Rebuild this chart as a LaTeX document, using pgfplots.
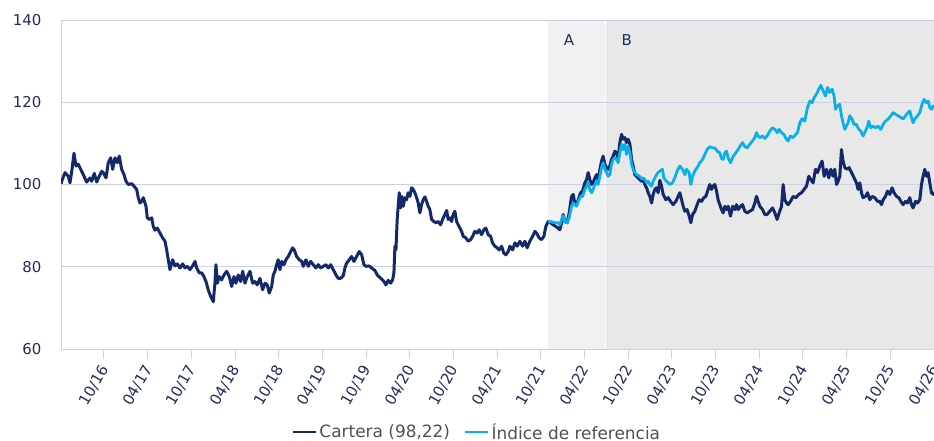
\documentclass[border=0pt]{standalone}
\usepackage{fontspec}
\setmainfont{DejaVu Sans}
\usepackage{pgfplots}
\usepackage{pgfplotstable}
\pgfplotsset{compat=1.18}
\definecolor{cartera}{HTML}{13296B}
\definecolor{indice}{HTML}{0AB0EA}
\definecolor{gridcol}{HTML}{C8D2E6}
\definecolor{tickcol}{HTML}{1F2C5C}
\definecolor{legcol}{HTML}{505050}
\definecolor{zoneA}{HTML}{F1F1F1}
\definecolor{zoneB}{HTML}{E8E8E8}

% x = months since January 2016 (0 = 01/2016)
\pgfplotstableread{
m v
3.10 100.2
3.19 100.8
3.65 102.9
4.10 102.0
4.33 100.4
4.57 103.2
4.88 107.6
5.16 104.5
5.47 104.9
5.94 103.2
6.16 102.4
6.62 100.6
7.08 101.6
7.31 100.8
7.67 102.7
8.00 100.6
8.35 102.0
8.68 103.2
8.90 102.9
9.28 101.6
9.59 105.3
9.92 106.5
10.20 103.7
10.51 106.5
10.83 105.3
11.10 106.9
11.43 103.7
11.75 102.4
12.02 100.8
12.34 100.0
12.80 100.2
13.12 99.6
13.49 98.8
13.71 96.8
13.94 95.5
14.18 95.9
14.40 96.8
14.77 94.7
14.95 91.9
15.22 91.5
15.55 91.9
15.77 89.8
16.00 88.9
16.32 89.4
16.69 88.2
17.06 87.0
17.38 86.2
17.61 84.1
17.83 81.7
18.06 79.3
18.43 81.7
18.75 80.2
19.07 80.7
19.44 79.7
19.81 80.7
20.12 79.7
20.44 80.1
20.81 79.3
21.18 80.2
21.50 81.3
21.73 79.7
22.09 78.5
22.42 78.5
22.73 77.6
23.01 76.4
23.32 74.4
23.65 72.8
24.01 71.5
24.24 76.0
24.38 80.5
24.56 76.0
24.83 77.6
25.16 76.8
25.48 78.0
25.85 78.9
26.21 77.6
26.54 75.2
26.85 77.6
27.13 76.0
27.44 78.0
27.77 76.4
28.05 78.9
28.36 76.0
28.68 77.6
29.05 78.9
29.42 76.0
29.73 76.4
30.05 75.6
30.42 77.2
30.79 74.4
31.11 76.0
31.42 75.6
31.70 73.6
32.03 75.2
32.25 78.0
32.48 78.9
32.71 80.5
32.93 81.7
33.17 79.3
33.40 81.3
33.72 80.5
33.99 81.7
34.31 82.5
34.64 83.7
34.91 84.6
35.13 84.1
35.46 82.5
35.82 81.7
36.15 81.3
36.37 80.1
36.74 81.7
37.05 80.1
37.38 81.3
37.74 80.5
38.11 79.7
38.43 80.5
38.76 79.7
39.11 80.1
39.48 80.5
39.80 79.7
40.13 80.5
40.49 79.3
40.86 78.0
41.17 77.2
41.50 77.2
41.86 77.8
42.09 79.7
42.33 80.9
42.68 81.7
43.01 82.5
43.33 81.3
43.70 82.5
44.06 83.7
44.39 82.9
44.70 80.5
44.98 80.1
45.43 80.2
45.76 79.7
46.21 79.1
46.53 78.0
46.80 77.5
47.13 77.0
47.45 76.4
47.72 75.6
48.04 76.7
48.37 76.0
48.64 76.8
48.82 78.5
48.96 85.0
49.10 84.1
49.27 91.5
49.55 98.0
49.74 94.3
49.92 97.1
50.10 94.7
50.33 96.8
50.56 96.3
50.78 98.0
51.02 97.1
51.25 99.2
51.47 98.8
51.70 98.0
51.94 96.8
52.16 95.5
52.39 93.1
52.62 95.1
52.84 96.3
53.08 97.0
53.31 95.9
53.53 94.7
53.76 93.9
54.00 91.5
54.31 91.0
54.59 90.7
54.90 91.0
55.23 90.2
55.51 91.5
55.82 92.7
56.06 93.7
56.28 91.5
56.51 91.9
56.74 91.0
56.96 92.7
57.20 93.5
57.43 91.0
57.65 90.2
57.88 89.4
58.12 88.6
58.34 87.4
58.71 87.0
59.02 86.2
59.35 86.6
59.63 87.4
59.94 88.6
60.26 88.2
60.53 89.0
60.86 87.8
61.18 89.0
61.45 89.4
61.77 87.8
62.10 87.4
62.37 85.8
62.69 85.0
63.00 84.6
63.28 84.1
63.61 85.0
63.92 83.3
64.20 82.9
64.52 83.7
64.75 85.0
65.12 84.1
65.44 85.8
65.75 85.0
66.12 86.2
66.49 85.0
66.81 86.2
67.12 84.6
67.49 86.2
67.87 87.4
68.18 88.6
68.41 88.2
68.77 87.0
69.10 86.6
69.42 87.4
69.69 89.8
70.01 91.0
70.34 90.7
70.69 90.2
71.06 89.8
71.38 89.4
71.61 89.0
71.85 90.7
72.07 92.7
72.30 91.0
72.62 90.7
72.89 93.1
73.22 97.1
73.44 97.6
73.67 95.5
73.91 95.1
74.13 96.3
74.46 98.0
74.73 98.4
75.05 100.4
75.28 101.2
75.50 102.9
75.73 101.2
75.97 100.0
76.19 100.4
76.42 101.6
76.65 102.4
76.87 101.2
77.11 103.7
77.34 105.7
77.56 106.9
77.79 104.9
78.03 104.1
78.25 103.7
78.48 104.5
78.71 106.1
78.93 106.9
79.17 108.1
79.40 107.7
79.62 106.1
79.85 110.2
80.09 112.2
80.31 111.0
80.54 111.4
80.77 110.2
80.99 111.0
81.23 109.8
81.46 106.1
81.68 104.5
81.91 102.4
82.15 102.0
82.37 101.6
82.60 101.2
82.83 100.8
83.05 101.2
83.29 100.0
83.52 99.2
83.74 98.0
83.97 97.1
84.21 95.5
84.43 97.6
84.66 98.8
84.89 99.2
85.11 98.0
85.35 101.0
85.58 99.6
85.80 97.6
86.17 96.3
86.49 96.8
86.81 95.9
87.17 95.1
87.54 95.9
87.86 97.1
88.09 98.0
88.33 96.3
88.55 94.7
88.78 93.5
89.09 93.9
89.37 92.3
89.60 90.7
89.84 92.7
90.15 93.5
90.47 95.1
90.74 96.3
91.07 95.9
91.39 96.8
91.66 97.1
91.98 98.8
92.21 100.0
92.44 98.8
92.66 99.6
92.90 100.0
93.13 98.4
93.35 96.3
93.58 95.1
93.82 93.9
94.04 93.1
94.27 94.7
94.50 93.9
94.72 94.7
95.05 92.3
95.33 94.7
95.64 93.9
95.88 95.1
96.10 93.9
96.43 94.7
96.70 95.1
97.02 93.5
97.33 93.1
97.70 93.5
98.07 93.9
98.39 95.5
98.62 97.1
98.84 95.9
99.08 94.7
99.45 93.9
99.76 92.7
100.08 92.7
100.45 93.5
100.82 94.3
101.14 93.1
101.45 91.5
101.73 93.1
102.06 94.7
102.28 100.0
102.51 96.3
102.74 95.5
102.96 95.1
103.29 95.9
103.65 97.1
104.02 96.8
104.43 97.6
104.80 98.0
105.16 98.8
105.49 99.6
105.80 102.0
106.08 101.2
106.40 100.4
106.72 103.7
107.00 102.9
107.32 104.5
107.63 105.7
107.91 102.0
108.24 103.7
108.55 101.6
108.83 103.7
109.14 102.0
109.37 103.7
109.61 100.0
109.83 100.8
110.06 102.0
110.29 108.5
110.51 105.7
110.75 104.1
111.06 103.7
111.34 104.1
111.67 102.9
112.03 101.6
112.35 100.4
112.57 98.8
112.81 100.4
113.04 98.0
113.26 96.8
113.59 97.1
113.87 98.0
114.18 96.3
114.50 97.1
114.87 96.8
115.24 95.9
115.55 95.9
115.79 95.1
116.01 96.3
116.34 97.1
116.61 98.4
116.93 97.6
117.24 99.2
117.52 98.0
117.85 97.1
118.16 96.8
118.44 95.9
118.75 95.1
119.08 95.9
119.36 95.5
119.67 96.8
119.91 95.1
120.13 94.3
120.46 95.9
120.73 95.5
121.05 96.3
121.28 100.0
121.50 102.0
121.73 103.7
121.97 102.0
122.19 102.9
122.42 100.4
122.65 98.0
122.87 97.6
122.97 98.22
}\carteradata

\pgfplotstableread{
m v
70.01 91.0
70.34 91.0
70.69 90.8
71.06 90.7
71.38 90.7
71.61 90.2
71.85 91.5
72.07 92.4
72.30 91.0
72.62 90.7
72.89 91.9
73.22 94.7
73.44 95.5
73.67 95.1
73.91 94.7
74.13 95.9
74.46 97.1
74.73 97.1
75.05 98.8
75.28 99.6
75.50 100.4
75.73 98.8
75.97 98.0
76.19 98.8
76.42 100.0
76.65 100.8
76.87 100.0
77.11 102.0
77.34 104.1
77.56 105.3
77.79 103.7
78.03 102.9
78.25 102.0
78.48 102.4
78.71 104.9
78.93 106.1
79.17 106.5
79.40 106.1
79.62 105.3
79.85 107.7
80.09 109.8
80.31 108.5
80.54 109.8
80.77 107.3
80.99 109.3
81.23 107.7
81.46 104.9
81.68 103.7
81.91 102.9
82.15 102.4
82.37 102.2
82.60 101.9
82.83 101.4
83.05 101.6
83.29 101.2
83.52 100.4
83.74 100.8
83.97 100.0
84.21 99.6
84.43 100.8
84.66 101.6
84.89 102.4
85.11 102.9
85.35 103.3
85.71 103.7
85.89 101.6
86.26 100.8
86.71 100.0
87.08 100.4
87.40 101.6
87.72 103.3
88.09 104.5
88.46 103.7
88.78 102.4
89.01 103.7
89.37 102.9
89.60 100.0
89.84 102.0
90.15 103.3
90.47 104.1
90.84 105.3
91.21 106.1
91.53 107.3
91.84 108.5
92.21 109.2
92.58 108.9
92.90 108.9
93.21 108.1
93.58 107.7
93.82 106.3
94.04 106.1
94.27 107.7
94.50 108.1
94.72 106.5
95.05 105.3
95.41 106.8
95.78 107.7
96.10 108.5
96.43 109.5
96.70 110.2
97.02 109.2
97.33 108.9
97.70 109.8
98.07 110.6
98.39 111.4
98.62 112.6
98.84 111.8
99.08 111.4
99.45 111.8
99.76 111.2
100.08 111.8
100.45 113.0
100.82 113.8
101.14 113.4
101.45 112.6
101.73 113.4
102.06 112.6
102.37 112.2
102.74 111.0
102.96 110.6
103.29 111.8
103.65 111.4
104.02 112.2
104.25 112.6
104.57 115.0
104.88 116.0
105.25 115.4
105.62 118.7
105.94 120.3
106.26 119.9
106.53 121.1
106.86 122.0
107.18 123.2
107.45 124.1
107.77 122.8
108.10 121.5
108.38 123.6
108.69 122.4
109.01 123.2
109.28 121.5
109.47 118.3
109.75 119.1
110.06 119.5
110.29 116.7
110.51 115.0
110.75 113.4
110.98 114.2
111.20 115.0
111.43 116.7
111.75 115.9
112.02 114.6
112.35 114.6
112.67 113.4
112.94 113.0
113.26 111.8
113.59 113.0
113.87 114.2
114.04 115.4
114.32 113.8
114.64 114.2
114.97 113.8
115.32 114.2
115.69 113.4
116.01 114.6
116.34 115.4
116.70 115.9
117.07 116.7
117.38 117.5
117.71 117.1
118.07 116.7
118.44 116.3
118.75 115.9
119.08 116.7
119.44 117.5
119.67 117.9
119.91 116.3
120.13 115.0
120.36 115.9
120.73 116.7
121.05 117.5
121.36 119.5
121.64 120.7
121.97 119.9
122.19 120.3
122.42 118.7
122.65 118.3
122.87 119.1
122.97 118.6
}\indicedata

\begin{document}
\begin{tikzpicture}
\begin{axis}[
  set layers,
  at={(0,0)}, anchor=south west,
  scale only axis,
  width=873bp, height=329bp,
  xmin=3.096, xmax=123,
  ymin=60, ymax=140,
  xtick={9,15,...,123},
  xticklabels={10/16,04/17,10/17,04/18,10/18,04/19,10/19,04/20,10/20,04/21,10/21,04/22,10/22,04/23,10/23,04/24,10/24,04/25,10/25,04/26},
  ytick={60,80,100,120,140},
  /pgf/number format/assume math mode=true,
  axis lines*=left,
  axis line style={-, draw=gridcol, line width=1bp},
  ymajorgrids,
  grid style={gridcol, line width=1bp},
  tick align=outside,
  major tick length=10bp,
  xtick style={gridcol, line width=1bp},
  ytick style={draw=none},
  tick label style={font=\fontsize{15}{18}\selectfont, text=tickcol},
  xticklabel style={yshift=-6bp, xshift=2bp, rotate=60, anchor=east, inner sep=2bp},
  yticklabel style={anchor=east, xshift=-6bp},
  legend columns=2,
  legend style={at={(0.4765,-0.252)}, anchor=center, draw=none, fill=none,
    font=\fontsize{17}{20}\selectfont, text=legcol,
    /tikz/every even column/.append style={column sep=12bp}},
  legend image code/.code={\draw[#1, line width=2.6bp] (0bp,0bp) -- (23bp,0bp);},
  clip=true,
]
\begin{pgfonlayer}{axis background}
  \fill[zoneA] (axis cs:70.01,60) rectangle (axis cs:77.89,140);
  \fill[zoneB] (axis cs:77.89,60) rectangle (axis cs:123,140);
  \draw[white, line width=1.5bp] (axis cs:77.89,60) -- (axis cs:77.89,140);
\end{pgfonlayer}
\addplot[cartera, line width=3bp, line join=round] table[x=m, y=v] {\carteradata};
\addlegendentry{Cartera (98,22)}
\addplot[indice, line width=2.8bp, line join=round] table[x=m, y=v] {\indicedata};
\addlegendentry{Índice de referencia}
\node[text=tickcol, font=\fontsize{15}{18}\selectfont] at (axis cs:72.85,135.1) {A};
\node[text=tickcol, font=\fontsize{15}{18}\selectfont] at (axis cs:80.81,135.1) {B};
\end{axis}
\pgfresetboundingbox
\path (-61bp,-92bp) rectangle (873bp,349bp);
\end{tikzpicture}
\end{document}
